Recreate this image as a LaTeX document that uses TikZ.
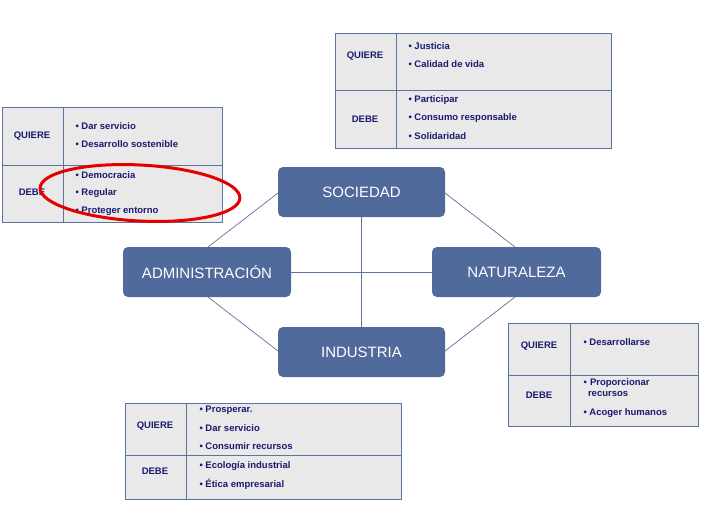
\documentclass[tikz,border=0pt]{standalone}
\usepackage{fontspec}
\setmainfont{Liberation Sans}
\begin{document}
\begin{tikzpicture}[x=1pt,y=-1pt,
  hub/.style={draw=none,fill=hubc,rounded corners=5pt,text=white,font=\fontsize{15}{17}\selectfont},
  cell/.style={draw=bordc,fill=cellc,line width=0.8pt},
  lab/.style={text=txtc,font=\bfseries\fontsize{9.5}{11}\selectfont},
  itm/.style={text=txtc,font=\bfseries\fontsize{9.5}{11}\selectfont,anchor=west,align=left},
  conn/.style={draw=bordc,line width=0.7pt}]
\definecolor{hubc}{HTML}{4F6A9B}
\definecolor{bordc}{HTML}{5A74A0}
\definecolor{cellc}{HTML}{E9E9E9}
\definecolor{txtc}{HTML}{1A1A70}
\useasboundingbox (0,0) rectangle (705,528);
% connectors
\coordinate (a1) at (278,193); \coordinate (a2) at (208,247);
\coordinate (b1) at (445,193); \coordinate (b2) at (515,247);
\coordinate (c1) at (208,297); \coordinate (c2) at (278,351);
\coordinate (d1) at (515,297); \coordinate (d2) at (445,351);
\draw[conn] (a1)--(a2); \draw[conn] (b1)--(b2);
\draw[conn] (c1)--(c2); \draw[conn] (d1)--(d2);
% hubs
\node[hub,minimum width=167pt,minimum height=50pt] (soc) at (361.5,192) {SOCIEDAD};
\node[hub,minimum width=168pt,minimum height=50pt] (adm) at (207,272) {ADMINISTRACIÓN};
\node[hub,minimum width=169pt,minimum height=50pt] (nat) at (516.5,272) {NATURALEZA};
\node[hub,minimum width=167pt,minimum height=50pt] (ind) at (361.5,352) {INDUSTRIA};
\draw[conn] (soc.south) -- (ind.north);
\draw[conn] (adm.east) -- (nat.west);
% top-left table
\draw[cell] (2,107) rectangle (222,222);
\draw[bordc,line width=0.8pt] (63,107)--(63,222) (2,165)--(222,165);
\node[lab] (tlq) at (32,136) {QUIERE};
\node[lab] (tld) at (32,192) {DEBE};
\node[itm] (tl1) at (72,126) {• Dar servicio};
\node[itm] (tl2) at (72,144) {• Desarrollo sostenible};
\node[itm] (tl3) at (72,175) {• Democracia};
\node[itm] (tl4) at (72,193) {• Regular};
\node[itm] (tl5) at (72,211) {• Proteger entorno};
% top-right table
\draw[cell] (335,33) rectangle (611,148);
\draw[bordc,line width=0.8pt] (396,33)--(396,148) (335,90)--(611,90);
\node[lab] (trq) at (365,56) {QUIERE};
\node[lab] (trd) at (365,119) {DEBE};
\node[itm] (tr1) at (405,46) {• Justicia};
\node[itm] (tr2) at (405,64) {• Calidad de vida};
\node[itm] (tr3) at (405,100) {• Participar};
\node[itm] (tr4) at (405,118) {• Consumo responsable};
\node[itm] (tr5) at (405,136) {• Solidaridad};
% right table
\draw[cell] (508,323) rectangle (698,426);
\draw[bordc,line width=0.8pt] (570,323)--(570,426) (508,375)--(698,375);
\node[lab] (rq) at (539,346) {QUIERE};
\node[lab] (rd) at (539,395) {DEBE};
\node[itm] (r1) at (580,342) {• Desarrollarse};
\node[itm,text width=110pt] (r2) at (580,388) {• Proporcionar\\\phantom{• }\hspace{-2pt}recursos};
\node[itm] (r3) at (580,413) {• Acoger humanos};
% bottom table
\draw[cell] (125,403) rectangle (401,499);
\draw[bordc,line width=0.8pt] (186,403)--(186,499) (125,455)--(401,455);
\node[lab] (bq) at (155,426) {QUIERE};
\node[lab] (bd) at (155,471) {DEBE};
\node[itm] (b1) at (196,410) {• Prosperar.};
\node[itm] (b2) at (196,428) {• Dar servicio};
\node[itm] (b3) at (196,446) {• Consumir recursos};
\node[itm] (b4) at (196,466) {• Ecología industrial};
\node[itm] (b5) at (196,484) {• Ética empresarial};
% red ellipse
\draw[red!90!black,line width=3pt,rotate around={-3:(140,193)}] (140,193) ellipse (100pt and 28pt);
\end{tikzpicture}
\end{document}
